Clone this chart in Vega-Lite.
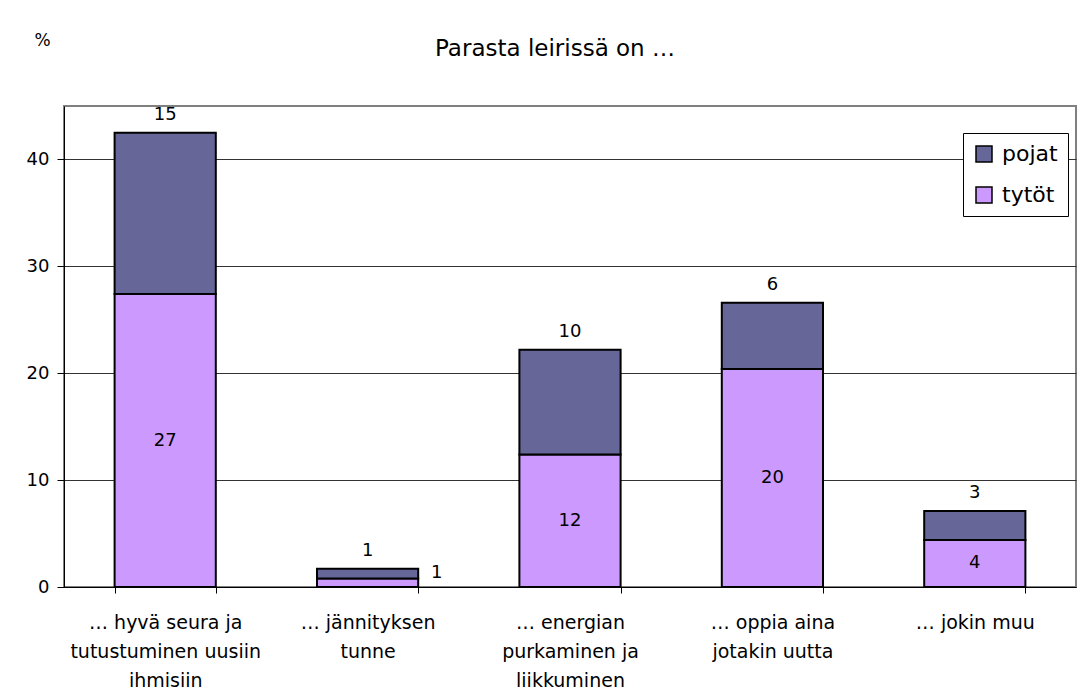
{
  "$schema": "https://vega.github.io/schema/vega-lite/v6.json",
  "width": 1012,
  "height": 481,
  "autosize": {"type": "none"},
  "padding": {"left": 64, "top": 106, "right": 15, "bottom": 112},
  "background": "white",
  "title": {
    "text": "Parasta leirissä on …",
    "fontSize": 23,
    "font": "DejaVu Sans",
    "fontWeight": "normal",
    "color": "black",
    "anchor": "middle",
    "frame": "group",
    "baseline": "alphabetic",
    "offset": 0,
    "dy": 48,
    "dx": -15
  },
  "data": {
    "values": [
      {"cat": "… hyvä seura ja|tutustuminen uusiin|ihmisiin", "sukupuoli": "tytöt", "pct": 27.4},
      {"cat": "… hyvä seura ja|tutustuminen uusiin|ihmisiin", "sukupuoli": "pojat", "pct": 15.1},
      {"cat": "… jännityksen|tunne", "sukupuoli": "tytöt", "pct": 0.8},
      {"cat": "… jännityksen|tunne", "sukupuoli": "pojat", "pct": 0.9},
      {"cat": "… energian|purkaminen ja|liikkuminen", "sukupuoli": "tytöt", "pct": 12.4},
      {"cat": "… energian|purkaminen ja|liikkuminen", "sukupuoli": "pojat", "pct": 9.8},
      {"cat": "… oppia aina|jotakin uutta", "sukupuoli": "tytöt", "pct": 20.4},
      {"cat": "… oppia aina|jotakin uutta", "sukupuoli": "pojat", "pct": 6.2},
      {"cat": "… jokin muu", "sukupuoli": "tytöt", "pct": 4.4},
      {"cat": "… jokin muu", "sukupuoli": "pojat", "pct": 2.7}
    ]
  },
  "transform": [
    {"stack": "pct", "groupby": ["cat"], "sort": [{"field": "sukupuoli", "order": "descending"}], "as": ["y0", "y1"]},
    {"calculate": "(datum.y0 + datum.y1) / 2", "as": "ymid"}
  ],
  "encoding": {
    "x": {
      "field": "cat",
      "type": "nominal",
      "sort": null,
      "scale": {"paddingInner": 0.5, "paddingOuter": 0.25},
      "axis": {
        "title": null,
        "labelAngle": 0,
        "labelExpr": "split(datum.label, '|')",
        "labelFontSize": 19,
        "labelLineHeight": 29,
        "labelPadding": 20,
        "labelBaseline": "top",
        "labelColor": "black",
        "labelLimit": 300,
        "tickBand": "extent",
        "tickSize": 6,
        "tickColor": "black",
        "domainColor": "black",
        "grid": false
      }
    }
  },
  "layer": [
    {
      "mark": {"type": "bar", "stroke": "black", "strokeWidth": 2},
      "encoding": {
        "y": {
          "field": "y1",
          "type": "quantitative",
          "scale": {"domain": [0, 45], "nice": false},
          "axis": {
            "values": [0, 10, 20, 30, 40],
            "title": "%",
            "titleAngle": 0,
            "titleX": -22,
            "titleY": -61,
            "titleAlign": "center",
            "titleBaseline": "alphabetic",
            "titleFontSize": 17,
            "titleFontWeight": "normal",
            "titleColor": "black",
            "labelFontSize": 18,
            "labelColor": "black",
            "labelPadding": 8,
            "tickSize": 7,
            "tickColor": "black",
            "domainColor": "black",
            "grid": true,
            "gridColor": "#333333",
            "gridWidth": 1
          }
        },
        "y2": {"field": "y0"},
        "color": {
          "field": "sukupuoli",
          "type": "nominal",
          "scale": {"domain": ["pojat", "tytöt"], "range": ["#666699", "#CC99FF"]},
          "legend": {
            "title": null,
            "orient": "none",
            "legendX": 899,
            "legendY": 27,
            "direction": "vertical",
            "strokeColor": "black",
            "fillColor": "white",
            "padding": 10,
            "symbolType": "square",
            "symbolSize": 256,
            "symbolStrokeColor": "black",
            "symbolStrokeWidth": 1.5,
            "symbolOpacity": 1,
            "labelFontSize": 22,
            "labelColor": "black",
            "labelOffset": 7,
            "rowPadding": 19
          }
        }
      }
    },
    {
      "transform": [{"filter": "datum.sukupuoli === 'tytöt' && datum.pct >= 2"}],
      "mark": {"type": "text", "fontSize": 18, "color": "black", "baseline": "middle"},
      "encoding": {
        "y": {"field": "ymid", "type": "quantitative"},
        "text": {"field": "pct", "type": "quantitative", "format": ".0f"}
      }
    },
    {
      "transform": [{"filter": "datum.sukupuoli === 'tytöt' && datum.pct < 2"}],
      "mark": {"type": "text", "fontSize": 18, "color": "black", "baseline": "middle", "dx": 69, "dy": -10},
      "encoding": {
        "y": {"field": "ymid", "type": "quantitative"},
        "text": {"field": "pct", "type": "quantitative", "format": ".0f"}
      }
    },
    {
      "transform": [{"filter": "datum.sukupuoli === 'pojat'"}],
      "mark": {"type": "text", "fontSize": 18, "color": "black", "baseline": "middle", "dy": -18},
      "encoding": {
        "y": {"field": "y1", "type": "quantitative"},
        "text": {"field": "pct", "type": "quantitative", "format": ".0f"}
      }
    }
  ],
  "config": {
    "font": "DejaVu Sans",
    "view": {"stroke": "#808080", "strokeWidth": 2},
    "axis": {"labelFont": "DejaVu Sans", "titleFont": "DejaVu Sans"},
    "legend": {"labelFont": "DejaVu Sans"}
  }
}
